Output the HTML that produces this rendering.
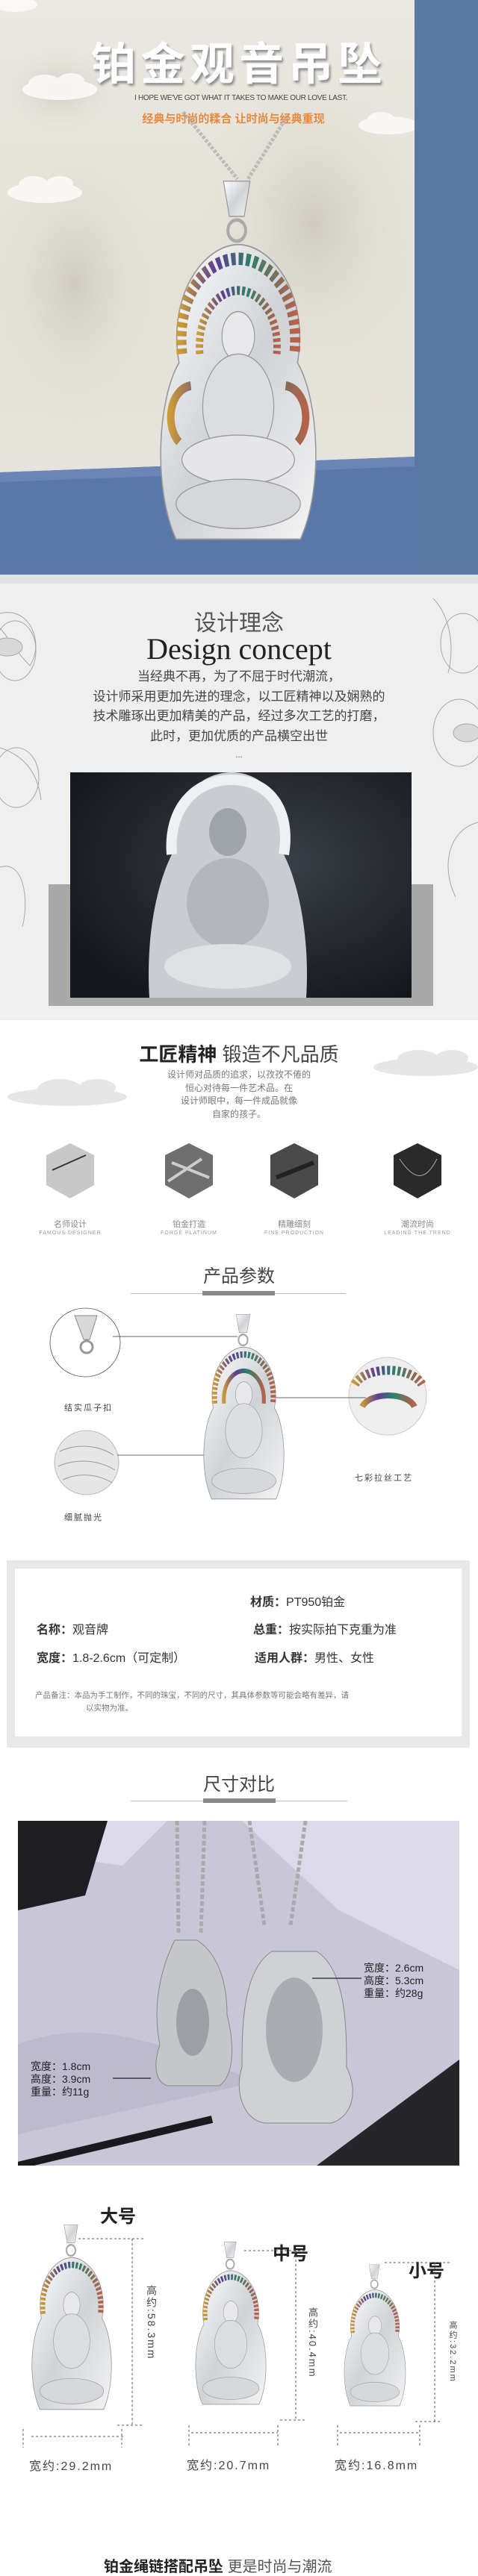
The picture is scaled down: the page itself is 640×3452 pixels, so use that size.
<!DOCTYPE html>
<html><head><meta charset="utf-8">
<style>
*{margin:0;padding:0;box-sizing:border-box}
body{width:640px;height:3434px;position:relative;overflow:hidden;background:#fff;font-family:"Liberation Sans","Noto Sans CJK SC",sans-serif}
.a{position:absolute;white-space:nowrap}
.c{text-align:center}
</style></head><body>

<!-- HERO -->
<div class="a" style="left:0;top:0;width:640px;height:782px;background:linear-gradient(180deg,#ebe8e1 0%,#e4e1d8 50%,#e8e5de 100%)"></div>
<svg class="a" style="left:0;top:0" width="640" height="782">
 <defs>
  <radialGradient id="fg" cx="0.5" cy="0.5" r="0.5"><stop offset="0" stop-color="#cfcbc2"/><stop offset="1" stop-color="#e6e3dc" stop-opacity="0"/></radialGradient>
 </defs>
 <ellipse cx="420" cy="300" rx="160" ry="220" fill="url(#fg)"/>
 <ellipse cx="100" cy="380" rx="120" ry="200" fill="url(#fg)"/>
 <ellipse cx="80" cy="120" rx="80" ry="60" fill="url(#fg)"/>
 <g fill="#fbfaf7" opacity="0.9">
  <ellipse cx="80" cy="120" rx="50" ry="14"/><ellipse cx="60" cy="112" rx="22" ry="12"/><ellipse cx="95" cy="108" rx="18" ry="10"/>
  <ellipse cx="60" cy="258" rx="50" ry="14"/><ellipse cx="45" cy="248" rx="20" ry="12"/><ellipse cx="80" cy="246" rx="18" ry="10"/>
  <ellipse cx="520" cy="168" rx="40" ry="12"/><ellipse cx="510" cy="160" rx="18" ry="10"/>
  <ellipse cx="20" cy="6" rx="30" ry="10"/>
 </g>
 <rect x="555" y="0" width="85" height="782" fill="#5d7ca6"/>
 <rect x="555" y="0" width="85" height="782" fill="#4f6f9a" opacity="0.3"/>
 <polygon points="0,633 555,612 555,782 0,782" fill="#5a77aa"/>
 <polygon points="0,633 555,612 555,625 0,646" fill="#6b86b6"/>
 <rect x="0" y="770" width="640" height="12" fill="#e3e3e6"/>
 <!-- chain -->
 <path d="M245,150 L318,240 M385,155 L332,240" stroke="#bbb" stroke-width="5" stroke-dasharray="4 2" fill="none"/>
</svg>
<div class="a" style="left:100px;top:38px;width:440px;font-size:60px;font-weight:bold;color:#fff;letter-spacing:6px;text-align:center;text-shadow:2px 3px 3px #8a8a8a">铂金观音吊坠</div>
<div class="a" style="left:180px;top:126px;width:275px;font-size:10px;color:#444;text-align:center;letter-spacing:-0.3px">I HOPE WE'VE GOT WHAT IT TAKES TO MAKE OUR LOVE LAST.</div>
<div class="a" style="left:160px;top:148px;width:305px;font-size:15px;color:#e38a45;text-align:center;font-weight:bold">经典与时尚的糅合 让时尚与经典重现</div>

<svg class="a" style="left:0;top:0" width="0" height="0">
 <defs>
  <linearGradient id="sv" x1="0" y1="0" x2="1" y2="1"><stop offset="0" stop-color="#ffffff"/><stop offset="0.5" stop-color="#cfd2d6"/><stop offset="1" stop-color="#f4f4f4"/></linearGradient>
  <linearGradient id="rb" x1="0" y1="0" x2="1" y2="0"><stop offset="0" stop-color="#c89a3a"/><stop offset="0.3" stop-color="#5b3f8f"/><stop offset="0.6" stop-color="#2f7f6a"/><stop offset="1" stop-color="#b5634b"/></linearGradient>
 </defs>
</svg>

<!-- hero pendant -->
<svg class="a" style="left:200px;top:238px" width="238" height="520" viewBox="0 0 120 220" preserveAspectRatio="none">
 <path d="M50,2 L68,2 L64,22 L54,22 Z" fill="url(#sv)" stroke="#999" stroke-width="0.6"/>
 <circle cx="59" cy="30" r="6" fill="none" stroke="#aaa" stroke-width="2"/>
 <path d="M18,205 C2,175 6,125 20,105 C12,65 38,38 60,38 C82,38 108,65 100,105 C114,125 118,175 102,205 Z" fill="url(#sv)" stroke="#999" stroke-width="0.8"/>
 <path d="M22,100 C18,65 40,46 60,46 C80,46 102,65 98,100" fill="none" stroke="url(#rb)" stroke-width="7" stroke-dasharray="3 2"/>
 <path d="M34,100 C32,78 46,64 60,64 C74,64 88,78 86,100" fill="none" stroke="url(#rb)" stroke-width="5" stroke-dasharray="2 1.5"/>
 <ellipse cx="60" cy="90" rx="11" ry="14" fill="#e8e8ea" stroke="#999" stroke-width="0.6"/>
 <ellipse cx="60" cy="130" rx="24" ry="30" fill="#dcdde0" stroke="#999" stroke-width="0.6"/>
 <ellipse cx="60" cy="160" rx="38" ry="14" fill="#e6e6e8" stroke="#999" stroke-width="0.6"/>
 <ellipse cx="60" cy="185" rx="42" ry="14" fill="#d6d7da" stroke="#999" stroke-width="0.6"/>
 <path d="M20,150 C10,140 14,120 28,118 M100,150 C110,140 106,120 92,118" stroke="url(#rb)" stroke-width="5" fill="none"/>
</svg>

<!-- DESIGN CONCEPT -->
<div class="a" style="left:0;top:782px;width:640px;height:585px;background:#efefef"></div>
<svg class="a" style="left:0;top:782px" width="640" height="585">
 <g fill="none" stroke="#a8a8a8" stroke-width="1">
  <path d="M0,40 C40,30 60,80 40,110 C20,90 10,70 0,60"/><ellipse cx="20" cy="90" rx="28" ry="40"/><ellipse cx="10" cy="85" rx="20" ry="12" fill="#d8d8d8"/>
  <ellipse cx="22" cy="260" rx="30" ry="40"/><path d="M0,220 C30,230 50,250 55,290"/>
  <path d="M0,380 C30,370 40,420 30,460"/>
  <ellipse cx="620" cy="80" rx="30" ry="40"/><ellipse cx="615" cy="200" rx="35" ry="45"/><ellipse cx="625" cy="200" rx="18" ry="12" fill="#d8d8d8"/>
  <path d="M640,320 C600,330 590,380 610,420"/><path d="M580,20 C600,40 610,80 600,120"/>
 </g>
 <rect x="65" y="403" width="515" height="163" fill="#a9a9a9"/>
 <defs><radialGradient id="dk" cx="0.6" cy="0.4" r="0.7"><stop offset="0" stop-color="#3b4048"/><stop offset="1" stop-color="#14171c"/></radialGradient></defs>
 <rect x="94" y="253" width="457" height="302" fill="url(#dk)"/>
 <g transform="translate(200,253)">
  <path d="M0,302 C-5,220 10,150 30,110 C25,50 60,0 110,0 C160,0 190,50 180,110 C200,150 215,220 210,302 Z" fill="#c9ccd1"/>
  <path d="M30,110 C25,50 60,10 110,10 C160,10 190,50 180,110" fill="none" stroke="#eef0f3" stroke-width="14"/>
  <ellipse cx="105" cy="80" rx="25" ry="32" fill="#9fa3aa"/>
  <ellipse cx="105" cy="175" rx="55" ry="60" fill="#b3b7bd"/>
  <ellipse cx="105" cy="260" rx="85" ry="30" fill="#dfe1e4"/>
 </g>
</svg>
<div class="a c" style="left:0;top:810px;width:640px;font-size:30px;color:#555">设计理念</div>
<div class="a c" style="left:0;top:846px;width:640px;font-size:40px;color:#222;font-family:'Liberation Serif',serif">Design concept</div>
<div class="a c" style="left:0;top:894px;width:640px;font-size:17px;line-height:26.5px;color:#444">当经典不再，为了不屈于时代潮流，<br>设计师采用更加先进的理念，以工匠精神以及娴熟的<br>技术雕琢出更加精美的产品，经过多次工艺的打磨，<br>此时，更加优质的产品横空出世</div>
<div class="a c" style="left:0;top:1004px;width:640px;font-size:12px;color:#666">...</div>

<!-- CRAFTSMANSHIP -->
<svg class="a" style="left:0;top:1370px" width="640" height="150">
 <g fill="#e6e6e6">
  <ellipse cx="90" cy="100" rx="80" ry="12"/><ellipse cx="80" cy="90" rx="30" ry="14"/><ellipse cx="130" cy="88" rx="25" ry="12"/>
  <ellipse cx="570" cy="60" rx="70" ry="12"/><ellipse cx="560" cy="50" rx="28" ry="13"/><ellipse cx="605" cy="48" rx="22" ry="11"/>
 </g>
</svg>
<div class="a c" style="left:0;top:1393px;width:640px;font-size:26px;color:#222"><b>工匠精神</b> <span style="color:#444">锻造不凡品质</span></div>
<div class="a c" style="left:0;top:1432px;width:640px;font-size:12px;line-height:17.5px;color:#777">设计师对品质的追求，以孜孜不倦的<br>恒心对待每一件艺术品。在<br>设计师眼中，每一件成品就像<br>自家的孩子。</div>
<svg class="a" style="left:0;top:1528px" width="640" height="90">
 <polygon points="94,4 126,20 126,60 94,78 62,60 62,20" fill="#c8c8c8"/>
 <polygon points="253,4 285,20 285,60 253,78 221,60 221,20" fill="#6f6f6f"/>
 <polygon points="394,4 426,20 426,60 394,78 362,60 362,20" fill="#4a4a4a"/>
 <polygon points="559,4 591,20 591,60 559,78 527,60 527,20" fill="#2a2a2a"/>
 <path d="M70,40 L115,20" stroke="#333" stroke-width="2"/>
 <path d="M230,30 L280,50 M225,55 L270,25" stroke="#ccc" stroke-width="4"/>
 <path d="M370,50 L420,30" stroke="#222" stroke-width="6"/>
 <path d="M535,25 C555,55 570,55 585,25" stroke="#aaa" stroke-width="1" fill="none"/>
</svg>
<div class="a c" style="left:44px;top:1632px;width:100px;font-size:11px;color:#888">名师设计</div>
<div class="a c" style="left:203px;top:1632px;width:100px;font-size:11px;color:#888">铂金打造</div>
<div class="a c" style="left:344px;top:1632px;width:100px;font-size:11px;color:#888">精雕细刻</div>
<div class="a c" style="left:509px;top:1632px;width:100px;font-size:11px;color:#888">潮流时尚</div>
<div class="a c" style="left:34px;top:1649px;width:120px;font-size:7px;color:#999;letter-spacing:1px">FAMOUS DESIGNER</div>
<div class="a c" style="left:193px;top:1649px;width:120px;font-size:7px;color:#999;letter-spacing:1px">FORGE PLATINUM</div>
<div class="a c" style="left:334px;top:1649px;width:120px;font-size:7px;color:#999;letter-spacing:1px">FINE PRODUCTION</div>
<div class="a c" style="left:499px;top:1649px;width:120px;font-size:7px;color:#999;letter-spacing:1px">LEADING THE TREND</div>

<!-- PARAMS -->
<div class="a c" style="left:0;top:1690px;width:640px;font-size:24px;color:#444">产品参数</div>
<div class="a" style="left:175px;top:1733px;width:288px;height:1px;background:#bbb"></div>
<div class="a" style="left:271px;top:1730px;width:97px;height:6px;background:#888"></div>
<svg class="a" style="left:0;top:1745px" width="640" height="300">
 <ellipse cx="114" cy="54" rx="47" ry="46" fill="#fff" stroke="#555" stroke-width="0.8"/>
 <path d="M100,18 L130,18 L120,50 L112,50 Z" fill="#d8d8d8" stroke="#888"/>
 <circle cx="116" cy="60" r="8" fill="none" stroke="#999" stroke-width="3"/>
 <ellipse cx="116" cy="215" rx="43" ry="43" fill="#e6e6e6" stroke="#bbb"/>
 <path d="M80,200 C100,190 130,190 152,205 M78,220 C100,210 130,210 154,225 M84,238 C105,228 130,230 150,242" stroke="#999" fill="none"/>
 <ellipse cx="519" cy="126" rx="52" ry="52" fill="#eee" stroke="#ccc"/>
 <path d="M475,110 C490,85 550,85 565,110" stroke="url(#rb)" stroke-width="12" fill="none" stroke-dasharray="4 3"/>
 <path d="M485,140 C495,120 545,120 555,140" stroke="url(#rb)" stroke-width="8" fill="none"/>
 <line x1="151" y1="46" x2="318" y2="46" stroke="#333" stroke-width="0.8"/>
 <line x1="363" y1="128" x2="490" y2="128" stroke="#333" stroke-width="0.8"/>
 <line x1="157" y1="205" x2="286" y2="205" stroke="#333" stroke-width="0.8"/>
</svg>
<svg class="a" style="left:265px;top:1759px" width="123" height="268" viewBox="0 0 120 220" preserveAspectRatio="none">
 <path d="M50,2 L68,2 L64,22 L54,22 Z" fill="url(#sv)" stroke="#999" stroke-width="0.6"/>
 <circle cx="59" cy="30" r="6" fill="none" stroke="#aaa" stroke-width="2"/>
 <path d="M18,205 C2,175 6,125 20,105 C12,65 38,38 60,38 C82,38 108,65 100,105 C114,125 118,175 102,205 Z" fill="url(#sv)" stroke="#999" stroke-width="0.8"/>
 <path d="M22,100 C18,65 40,46 60,46 C80,46 102,65 98,100" fill="none" stroke="url(#rb)" stroke-width="7" stroke-dasharray="3 2"/>
 <path d="M34,100 C32,78 46,64 60,64 C74,64 88,78 86,100" fill="none" stroke="url(#rb)" stroke-width="5"/>
 <ellipse cx="60" cy="90" rx="11" ry="14" fill="#e8e8ea" stroke="#999" stroke-width="0.6"/>
 <ellipse cx="60" cy="130" rx="24" ry="30" fill="#dcdde0" stroke="#999" stroke-width="0.6"/>
 <ellipse cx="60" cy="185" rx="42" ry="14" fill="#d6d7da" stroke="#999" stroke-width="0.6"/>
</svg>
<div class="a" style="left:86px;top:1878px;font-size:11px;color:#444;letter-spacing:2px">结实瓜子扣</div>
<div class="a" style="left:86px;top:2025px;font-size:11px;color:#444;letter-spacing:2px">细腻抛光</div>
<div class="a" style="left:475px;top:1972px;font-size:11px;color:#444;letter-spacing:2px">七彩拉丝工艺</div>

<!-- SPEC BOX -->
<div class="a" style="left:9px;top:2091px;width:620px;height:251px;background:#e8e8e8"></div>
<div class="a" style="left:20px;top:2102px;width:598px;height:225px;background:#fff"></div>
<div class="a" style="left:335px;top:2133px;font-size:16px;color:#333"><b>材质：</b>PT950铂金</div>
<div class="a" style="left:49px;top:2170px;font-size:16px;color:#333"><b>名称：</b>观音牌</div>
<div class="a" style="left:339px;top:2170px;font-size:16px;color:#333"><b>总重：</b>按实际拍下克重为准</div>
<div class="a" style="left:49px;top:2208px;font-size:16px;color:#333"><b>宽度：</b>1.8-2.6cm（可定制）</div>
<div class="a" style="left:341px;top:2208px;font-size:16px;color:#333"><b>适用人群：</b>男性、女性</div>
<div class="a" style="left:47px;top:2264px;font-size:10.5px;color:#777;line-height:17px">产品备注：本品为手工制作，不同的珠宝，不同的尺寸，其具体参数等可能会略有差异，请<br><span style="padding-left:68px">以实物为准。</span></div>

<!-- SIZE COMPARE -->
<div class="a c" style="left:0;top:2371px;width:640px;font-size:24px;color:#444">尺寸对比</div>
<div class="a" style="left:175px;top:2413px;width:290px;height:1px;background:#bbb"></div>
<div class="a" style="left:272px;top:2410px;width:97px;height:6px;background:#888"></div>
<svg class="a" style="left:24px;top:2440px" width="591" height="462">
 <rect width="591" height="462" fill="#c9c6d8"/>
 <polygon points="0,0 591,0 591,200 430,120 300,0 200,0 140,60 0,40" fill="#dcd9e8"/>
 <polygon points="0,0 120,0 90,100 0,120" fill="#1d1d22"/>
 <polygon points="400,462 591,320 591,462" fill="#25252a"/>
 <path d="M0,300 C100,260 200,300 320,350 L0,420 Z" fill="#bdb9cf"/>
 <path d="M0,462 L260,400" stroke="#1a1a1e" stroke-width="10"/>
 <g stroke="#aaa" stroke-width="5" stroke-dasharray="6 3" fill="none">
  <path d="M213,0 L215,150"/><path d="M250,0 L245,150"/>
  <path d="M310,0 L330,140"/><path d="M385,0 L365,140"/>
 </g>
 <path d="M210,160 C190,200 180,250 190,300 C180,330 185,350 200,355 L270,355 C290,340 290,300 280,260 C280,220 270,180 240,160 Z" fill="#c4c6ca" stroke="#888"/>
 <ellipse cx="234" cy="270" rx="22" ry="45" fill="#9c9fa5"/>
 <path d="M340,175 C300,200 300,280 300,330 C290,360 300,400 330,405 L420,405 C450,395 455,360 440,330 C440,280 440,200 400,175 Z" fill="#cfd1d5" stroke="#888"/>
 <ellipse cx="370" cy="280" rx="38" ry="70" fill="#a9acb2"/>
 <line x1="127" y1="345" x2="178" y2="345" stroke="#222" stroke-width="1.2"/>
 <line x1="394" y1="211" x2="460" y2="211" stroke="#222" stroke-width="1.2"/>
</svg>
<div class="a" style="left:487px;top:2629px;font-size:14px;line-height:17px;color:#222">宽度：2.6cm<br>高度：5.3cm<br>重量：约28g</div>
<div class="a" style="left:41px;top:2761px;font-size:14px;line-height:17px;color:#222">宽度：1.8cm<br>高度：3.9cm<br>重量：约11g</div>

<!-- three sizes -->
<div class="a" style="left:134px;top:2950px;font-size:24px;font-weight:bold;color:#222">大号</div>
<div class="a" style="left:365px;top:3000px;font-size:24px;font-weight:bold;color:#222">中号</div>
<div class="a" style="left:547px;top:3023px;font-size:24px;font-weight:bold;color:#222">小号</div>

<svg class="a" style="left:35px;top:2979px" width="122" height="268" viewBox="0 0 120 220" preserveAspectRatio="none">
 <path d="M50,2 L68,2 L64,22 L54,22 Z" fill="url(#sv)" stroke="#999" stroke-width="0.6"/>
 <circle cx="59" cy="30" r="6" fill="none" stroke="#aaa" stroke-width="2"/>
 <path d="M18,205 C2,175 6,125 20,105 C12,65 38,38 60,38 C82,38 108,65 100,105 C114,125 118,175 102,205 Z" fill="url(#sv)" stroke="#999" stroke-width="0.8"/>
 <path d="M22,100 C18,65 40,46 60,46 C80,46 102,65 98,100" fill="none" stroke="url(#rb)" stroke-width="7" stroke-dasharray="3 2"/>
 <ellipse cx="60" cy="90" rx="11" ry="14" fill="#e8e8ea" stroke="#999" stroke-width="0.6"/>
 <ellipse cx="60" cy="130" rx="24" ry="30" fill="#dcdde0" stroke="#999" stroke-width="0.6"/>
 <ellipse cx="60" cy="185" rx="42" ry="14" fill="#d6d7da" stroke="#999" stroke-width="0.6"/>
</svg>
<svg class="a" style="left:255px;top:3002px" width="108" height="236" viewBox="0 0 120 220" preserveAspectRatio="none">
 <path d="M50,2 L68,2 L64,22 L54,22 Z" fill="url(#sv)" stroke="#999" stroke-width="0.6"/>
 <circle cx="59" cy="30" r="6" fill="none" stroke="#aaa" stroke-width="2"/>
 <path d="M18,205 C2,175 6,125 20,105 C12,65 38,38 60,38 C82,38 108,65 100,105 C114,125 118,175 102,205 Z" fill="url(#sv)" stroke="#999" stroke-width="0.8"/>
 <path d="M22,100 C18,65 40,46 60,46 C80,46 102,65 98,100" fill="none" stroke="url(#rb)" stroke-width="7" stroke-dasharray="3 2"/>
 <ellipse cx="60" cy="90" rx="11" ry="14" fill="#e8e8ea" stroke="#999" stroke-width="0.6"/>
 <ellipse cx="60" cy="130" rx="24" ry="30" fill="#dcdde0" stroke="#999" stroke-width="0.6"/>
 <ellipse cx="60" cy="185" rx="42" ry="14" fill="#d6d7da" stroke="#999" stroke-width="0.6"/>
</svg>
<svg class="a" style="left:455px;top:3033px" width="94" height="205" viewBox="0 0 120 220" preserveAspectRatio="none">
 <path d="M50,2 L68,2 L64,22 L54,22 Z" fill="url(#sv)" stroke="#999" stroke-width="0.6"/>
 <circle cx="59" cy="30" r="6" fill="none" stroke="#aaa" stroke-width="2"/>
 <path d="M18,205 C2,175 6,125 20,105 C12,65 38,38 60,38 C82,38 108,65 100,105 C114,125 118,175 102,205 Z" fill="url(#sv)" stroke="#999" stroke-width="0.8"/>
 <path d="M22,100 C18,65 40,46 60,46 C80,46 102,65 98,100" fill="none" stroke="url(#rb)" stroke-width="7" stroke-dasharray="3 2"/>
 <ellipse cx="60" cy="90" rx="11" ry="14" fill="#e8e8ea" stroke="#999" stroke-width="0.6"/>
 <ellipse cx="60" cy="130" rx="24" ry="30" fill="#dcdde0" stroke="#999" stroke-width="0.6"/>
 <ellipse cx="60" cy="185" rx="42" ry="14" fill="#d6d7da" stroke="#999" stroke-width="0.6"/>
</svg>
<svg class="a" style="left:0;top:2960px" width="640" height="330">
 <g stroke="#555" stroke-width="1" stroke-dasharray="3 3" fill="none">
  <line x1="105" y1="40" x2="192" y2="40"/><line x1="177" y1="40" x2="177" y2="290"/><line x1="157" y1="290" x2="190" y2="290"/>
  <line x1="42" y1="305" x2="165" y2="305"/><line x1="31" y1="295" x2="31" y2="320"/><line x1="163" y1="295" x2="163" y2="320"/>
  <line x1="327" y1="56" x2="410" y2="56"/><line x1="396" y1="56" x2="396" y2="283"/><line x1="375" y1="283" x2="410" y2="283"/>
  <line x1="256" y1="300" x2="372" y2="300"/><line x1="253" y1="290" x2="253" y2="318"/><line x1="372" y1="290" x2="372" y2="318"/>
  <line x1="515" y1="72" x2="605" y2="72"/><line x1="582" y1="72" x2="582" y2="285"/><line x1="556" y1="285" x2="590" y2="285"/>
  <line x1="455" y1="300" x2="562" y2="300"/><line x1="452" y1="290" x2="452" y2="318"/><line x1="562" y1="290" x2="562" y2="318"/>
 </g>
</svg>
<div class="a" style="left:193px;top:3062px;font-size:14px;color:#444;writing-mode:vertical-rl;letter-spacing:2px">高约:58.3mm</div>
<div class="a" style="left:409px;top:3092px;font-size:13px;color:#444;writing-mode:vertical-rl;letter-spacing:2px">高约:40.4mm</div>
<div class="a" style="left:598px;top:3110px;font-size:11px;color:#444;writing-mode:vertical-rl;letter-spacing:2px">高约:32.2mm</div>
<div class="a" style="left:39px;top:3291px;font-size:16px;color:#444;letter-spacing:2px">宽约:29.2mm</div>
<div class="a" style="left:250px;top:3290px;font-size:16px;color:#444;letter-spacing:2px">宽约:20.7mm</div>
<div class="a" style="left:448px;top:3290px;font-size:16px;color:#444;letter-spacing:2px">宽约:16.8mm</div>
<div class="a" style="left:139px;top:3423px;font-size:20px;color:#222"><b>铂金绳链搭配吊坠</b> <span style="color:#555">更是时尚与潮流</span></div>
</body></html>
